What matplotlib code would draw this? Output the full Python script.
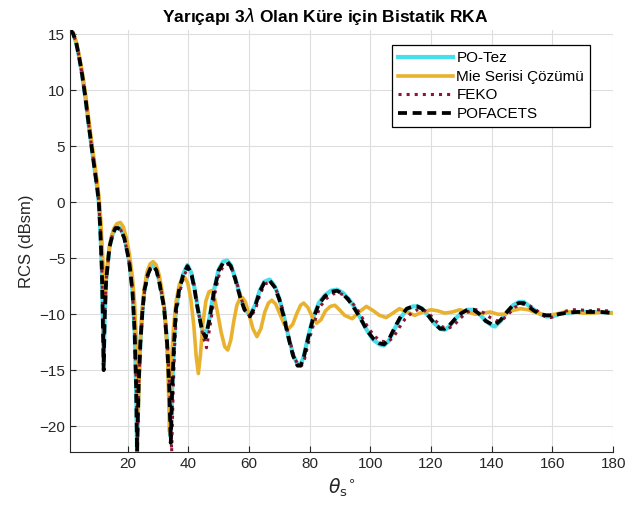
import numpy as np
import matplotlib
matplotlib.use("Agg")
import matplotlib.pyplot as plt

plt.rcParams['font.family'] = ['Liberation Sans', 'DejaVu Sans']
plt.rcParams['mathtext.fontset'] = 'dejavusans'

# PO-Tez (thesis PO result)
po_theta = [1, 2, 3, 4, 5, 6, 7, 8, 9, 10, 10.5, 11, 11.5, 11.8, 12.1, 12.4, 12.9, 14, 15.1, 16,
            16.8, 17.8, 18.9, 20, 20.6, 21.6, 22.3, 22.8, 23.1, 23.6, 24.2, 24.9, 25.5, 26.6, 27.5,
            28.5, 29.5, 30.4, 32, 33, 33.7, 34.2, 34.7, 35.3, 35.9, 36.9, 38.3, 39.7, 41, 42, 43,
            44.5, 45.7, 47, 48.5, 50, 51.5, 52.8, 54, 55.5, 57, 58.5, 60.3, 62, 63.5, 65, 66.8,
            68.5, 70, 71.5, 73, 74.5, 76, 77, 78, 79.5, 81, 83, 85, 87, 89, 91, 93, 95, 97, 99,
            101, 103, 104.5, 106, 108, 110, 112, 114, 115.5, 117, 119, 121, 123, 124.5, 126, 128,
            130, 132, 134, 136, 138, 140, 141, 143, 145, 147, 149, 150.5, 152, 154, 156, 158, 160,
            162, 164, 168, 172, 176, 180]
po_rcs = [15.4, 15.1, 14.3, 13.0, 11.4, 9.5, 7.3, 5.2, 3.2, 1.2, 0.0, -2.5, -6.0, -10.0, -14.5,
          -10.5, -7.0, -4.0, -2.8, -2.3, -2.2, -2.4, -3.1, -4.5, -5.4, -7.9, -11.5, -16.5, -22.3,
          -16.5, -12.5, -9.6, -7.9, -6.4, -5.8, -5.6, -6.0, -7.0, -9.3, -12.5, -16.5, -21.0,
          -16.5, -12.5, -9.6, -7.9, -6.4, -5.6, -6.3, -7.6, -9.3, -11.3, -12.0, -10.3, -7.8,
          -6.0, -5.3, -5.2, -5.6, -6.8, -8.3, -9.5, -10.1, -9.2, -7.9, -7.1, -6.9, -7.5, -8.6,
          -10.2, -12.0, -13.6, -14.5, -14.5, -13.8, -12.0, -10.4, -9.0, -8.3, -7.9, -7.8, -8.1,
          -8.7, -9.5, -10.5, -11.5, -12.3, -12.7, -12.8, -12.4, -11.3, -10.3, -9.6, -9.3, -9.3,
          -9.5, -10.1, -10.8, -11.3, -11.4, -11.1, -10.4, -9.9, -9.6, -9.6, -10.0, -10.6, -11.0,
          -11.1, -10.6, -9.8, -9.2, -8.9, -8.9, -9.2, -9.6, -10.0, -10.2, -10.2, -10.0, -9.9,
          -9.8, -9.8, -9.8, -9.9]

# POFACETS (same angles as PO-Tez)
pofacets_rcs = [15.4, 15.1, 14.3, 13.0, 11.4, 9.5, 7.3, 5.2, 3.2, 1.2, 0.0, -2.5, -6.0, -10.0, -15.0,
                -10.5, -7.0, -4.0, -2.8, -2.3, -2.3, -2.5, -3.2, -4.6, -5.5, -8.0, -11.5, -16.5, -22.3,
                -16.5, -12.5, -9.6, -7.9, -6.5, -5.9, -5.7, -6.1, -7.1, -9.4, -12.6, -16.5, -21.5,
                -16.5, -12.5, -9.6, -7.9, -6.5, -5.7, -6.4, -7.7, -9.4, -11.4, -12.1, -10.4, -7.9,
                -6.1, -5.4, -5.3, -5.7, -6.9, -8.4, -9.6, -10.2, -9.3, -8.0, -7.2, -7.0, -7.6, -8.7,
                -10.3, -12.1, -13.7, -14.6, -14.6, -13.9, -12.1, -10.5, -9.1, -8.4, -8.0, -7.9, -8.2,
                -8.8, -9.6, -10.5, -11.5, -12.2, -12.6, -12.7, -12.3, -11.2, -10.2, -9.5, -9.3, -9.3,
                -9.5, -10.1, -10.8, -11.3, -11.3, -11.0, -10.4, -9.9, -9.6, -9.6, -10.0, -10.6, -10.9,
                -11.0, -10.5, -9.8, -9.2, -9.0, -9.0, -9.3, -9.7, -10.0, -10.1, -10.1, -10.0, -9.9,
                -9.8, -9.8, -9.8, -9.9]

# Mie series solution
mie_theta = [1, 2, 3, 4, 5, 6, 7, 8, 9, 10, 10.6, 11.2, 11.8, 12.4, 12.9, 13.6, 14.5, 15.5, 16.5,
             17.6, 18.6, 19.6, 20.5, 21.5, 22.3, 22.9, 23.5, 24.0, 24.6, 25.4, 26.4, 27.4, 28.4,
             29.4, 30.4, 31.4, 32.4, 33.2, 33.8, 34.4, 35.1, 36.0, 37.0, 38.0, 38.8, 39.8, 40.8,
             41.8, 42.6, 43.3, 44.0, 44.8, 45.8, 46.8, 47.6, 48.5, 49.6, 50.8, 52, 53, 54, 55, 56,
             57, 57.8, 58.8, 60, 61.3, 62.6, 63.9, 65.2, 66.4, 67.5, 68.8, 70.2, 71.6, 73, 74.4,
             75.8, 77, 78, 79.4, 80.8, 82.3, 83.7, 85.2, 86.8, 88.3, 89.8, 91.5, 94, 96.3, 98.7,
             101, 103, 105.2, 107.4, 109.6, 112, 114.6, 117.3, 120, 122.2, 124.5, 127, 129.5, 132,
             134.5, 137, 139.5, 142, 144, 146.5, 149.5, 152, 155, 158, 161, 164, 167, 170, 173,
             176, 180]
mie_rcs = [15.5, 15.2, 14.4, 13.2, 11.7, 9.9, 7.8, 5.7, 3.7, 1.8, 0.4, -1.8, -5.0, -8.5, -7.0,
           -4.8, -3.2, -2.3, -1.9, -1.8, -2.2, -3.2, -4.5, -6.5, -9.0, -12.5, -18.7, -13.5, -10.2,
           -7.8, -6.2, -5.5, -5.3, -5.6, -6.5, -8.0, -10.5, -14.0, -20.5, -14.5, -11.2, -8.8,
           -7.4, -6.8, -6.7, -7.2, -8.6, -11.0, -13.8, -15.3, -13.6, -10.8, -8.8, -8.0, -7.9,
           -8.4, -9.8, -11.6, -12.9, -13.2, -12.3, -10.6, -9.2, -8.6, -8.5, -8.9, -10.0, -11.3,
           -12.0, -11.3, -9.8, -9.0, -8.75, -9.1, -10.0, -10.9, -11.3, -10.9, -9.9, -9.2, -9.0,
           -9.4, -10.2, -10.8, -10.5, -9.7, -9.3, -9.2, -9.6, -10.1, -10.4, -9.8, -9.3, -9.7,
           -10.1, -10.3, -9.9, -9.5, -9.8, -10.1, -9.8, -9.6, -9.7, -9.9, -9.8, -9.6, -9.8, -10.0,
           -9.9, -9.8, -10.0, -10.0, -9.7, -9.5, -9.6, -9.9, -10.1, -10.0, -9.8, -9.8, -9.9,
           -9.9, -9.8, -9.9]

# FEKO
feko_theta = [1, 2, 3, 4, 5, 6, 7, 8, 9, 10, 10.5, 11, 11.5, 11.8, 12.1, 12.4, 12.9, 14, 15.1, 16,
              16.8, 17.8, 18.9, 20, 20.6, 21.6, 22.3, 22.8, 23.2, 23.7, 24.3, 25, 25.6, 26.7, 27.6,
              28.6, 29.6, 30.5, 32.1, 33.1, 33.9, 34.5, 35, 35.5, 36.1, 37.1, 38.5, 39.9, 41.2,
              42.2, 43.2, 44.7, 46, 47.3, 48.8, 50.3, 51.8, 53.1, 54.3, 55.8, 57.3, 58.8, 60.6,
              62.3, 63.8, 65.3, 67.1, 68.8, 70.3, 71.8, 73.3, 74.8, 76.3, 77.3, 78.3, 79.8, 81.5,
              83.5, 85.5, 87.5, 89.5, 91.5, 93.5, 95.5, 97.5, 99.5, 101.5, 103.5, 105.5, 107.5,
              109.5, 111.5, 113.5, 115.5, 117.5, 119.5, 121.5, 123.5, 125.5, 127.5, 129.5, 131.5,
              133.5, 135.5, 137.5, 139.5, 141.5, 143.5, 145.5, 147.5, 149.5, 151.5, 153.5, 155.5,
              157.5, 159.5, 161.5, 163.5, 166, 169, 172, 175, 178, 180]
feko_rcs = [15.4, 15.1, 14.3, 13.0, 11.4, 9.5, 7.3, 5.2, 3.2, 1.2, 0.0, -2.5, -6.0, -10.0, -14.0,
            -10.5, -7.0, -4.0, -2.8, -2.3, -2.3, -2.5, -3.2, -4.6, -5.5, -8.0, -11.5, -16.0, -21.5,
            -16.0, -12.3, -9.6, -7.9, -6.5, -5.9, -5.7, -6.1, -7.1, -9.4, -12.6, -17.0, -22.3,
            -17.0, -12.8, -9.8, -8.1, -6.6, -5.8, -6.5, -7.8, -9.6, -11.8, -13.0, -10.8, -8.1,
            -6.3, -5.6, -5.5, -5.9, -7.0, -8.5, -9.7, -10.3, -9.4, -8.1, -7.3, -7.1, -7.7, -8.8,
            -10.4, -12.2, -13.8, -14.6, -14.6, -14.0, -12.3, -10.7, -9.3, -8.6, -8.2, -8.1, -8.3,
            -8.8, -9.5, -10.4, -11.3, -12.0, -12.4, -12.5, -12.1, -11.2, -10.4, -9.9, -9.6, -9.6,
            -10.0, -10.6, -11.1, -11.3, -11.0, -10.4, -9.9, -9.6, -9.6, -9.9, -10.3, -10.6, -10.5,
            -10.0, -9.4, -9.1, -9.1, -9.4, -9.8, -10.2, -10.3, -10.1, -9.8, -9.6, -9.6, -9.7,
            -9.6, -9.7, -9.7]

fig, ax = plt.subplots(figsize=(6.25, 5.17), dpi=100)
fig.subplots_adjust(left=0.112, right=0.981, top=0.942, bottom=0.126)

ax.plot(po_theta, po_rcs, color='#45e0ec', lw=3.0, label='PO-Tez')
ax.plot(mie_theta, mie_rcs, color='#e9b22e', lw=2.6, label='Mie Serisi Çözümü')
ax.plot(feko_theta, feko_rcs, color='#8a1535', lw=2.2, ls=':', label='FEKO')
ax.plot(po_theta, pofacets_rcs, color='black', lw=2.7, ls=(0, (2.4, 1.5)), label='POFACETS')

ax.set_xlim(1, 180)
ax.set_ylim(-22.3, 15.4)
ax.set_xticks(np.arange(20, 181, 20))
ax.set_yticks(np.arange(-20, 16, 5))
ax.grid(True, color='#dedede', lw=0.8)
ax.set_axisbelow(True)
ax.tick_params(direction='in', labelsize=11, colors='#262626', length=4)
for s in ['top', 'right']:
    ax.spines[s].set_visible(False)
for s in ['left', 'bottom']:
    ax.spines[s].set_color('#262626')

ax.set_title('Yarıçapı 3$\\lambda$ Olan Küre için Bistatik RKA', fontsize=12.5, fontweight='bold',
             x=0.47)
ax.set_ylabel('RCS (dBsm)', fontsize=12, color='#262626')
ax.set_xlabel(r'$\theta_{\rm s}$$^{\circ}$', fontsize=13.5, color='#262626')

leg = ax.legend(loc='upper right', bbox_to_anchor=(0.958, 0.964), borderaxespad=0,
                fontsize=11, handlelength=3.6, handletextpad=0.25, fancybox=False,
                framealpha=1, edgecolor='black', borderpad=0.4, labelspacing=0.3)
leg.get_frame().set_linewidth(0.9)

plt.savefig('out.png', dpi=100)
